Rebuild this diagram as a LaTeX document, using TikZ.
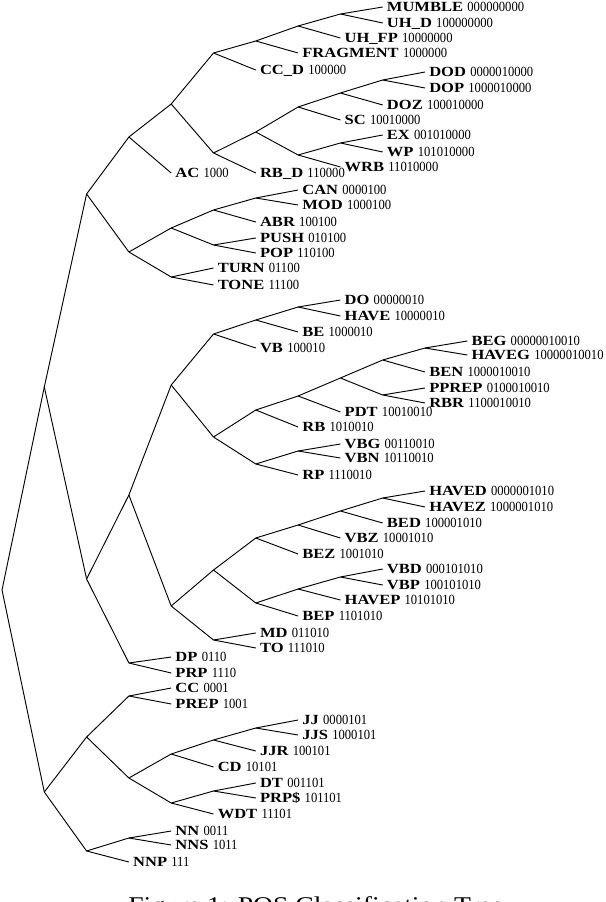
\documentclass[tikz,border=0pt]{standalone}
\usepackage{fontspec}
\setmainfont{Liberation Serif}
\usepackage{graphicx}
\newcommand\tg[2]{\scalebox{1.18}[1]{\bfseries #1}\hspace{3.2pt}\scalebox{0.9}[1]{#2}}
\newcommand\lf[6]{%
  \node[leaflab] (#1) at (#2,#3) {\tg{#4}{#5}};
  \draw[br] (#6) -- (#1.west);%
}
\tikzset{
  br/.style={line width=0.7pt, black},
  leaflab/.style={anchor=west, inner xsep=3pt, inner ysep=0pt, text height=6.95pt, text depth=0pt,
    font=\fontsize{10.5}{12}\selectfont}
}
\begin{document}
\begin{tikzpicture}[x=0.75pt,y=-0.75pt]
\useasboundingbox (0,0) rectangle (606,902);
\clip (0,0) rectangle (606,902);
% internal nodes
\coordinate (r) at (2,590);
\coordinate (n0) at (44.3,387);
\coordinate (n00) at (86.6,194);
\coordinate (n000) at (128.9,137);
\coordinate (n0000) at (171.2,104);
\coordinate (n00000) at (213.5,53);
\coordinate (n000000) at (255.8,41);
\coordinate (n0000000) at (298.1,26);
\coordinate (n00000000) at (340.4,14);
\coordinate (n00001) at (213.5,153);
\coordinate (n000010) at (255.8,132);
\coordinate (n0000100) at (298.1,107);
\coordinate (n00001000) at (340.4,93);
\coordinate (n000010000) at (382.7,80);
\coordinate (n0000101) at (298.1,155);
\coordinate (n00001010) at (340.4,143);
\coordinate (n001) at (128.9,252);
\coordinate (n0010) at (171.2,228);
\coordinate (n00100) at (213.5,210);
\coordinate (n001000) at (255.8,198);
\coordinate (n00101) at (213.5,245);
\coordinate (n0011) at (171.2,277);
\coordinate (n01) at (86.6,579);
\coordinate (n010) at (128.9,495);
\coordinate (n0100) at (171.2,385);
\coordinate (n01000) at (213.5,334);
\coordinate (n010000) at (255.8,320);
\coordinate (n0100000) at (298.1,307);
\coordinate (n01001) at (213.5,437);
\coordinate (n010010) at (255.8,410);
\coordinate (n0100100) at (298.1,396);
\coordinate (n01001000) at (340.4,378);
\coordinate (n010010000) at (382.7,360);
\coordinate (n0100100000) at (425,348);
\coordinate (n010010001) at (382.7,395);
\coordinate (n010011) at (255.8,464);
\coordinate (n0100110) at (298.1,451);
\coordinate (n0101) at (171.2,606);
\coordinate (n01010) at (213.5,570);
\coordinate (n010100) at (255.8,538);
\coordinate (n0101000) at (298.1,525);
\coordinate (n01010000) at (340.4,511);
\coordinate (n010100000) at (382.7,498);
\coordinate (n010101) at (255.8,603);
\coordinate (n0101010) at (298.1,589);
\coordinate (n01010100) at (340.4,577);
\coordinate (n01011) at (213.5,640);
\coordinate (n011) at (128.9,663);
\coordinate (n1) at (44.3,792);
\coordinate (n10) at (86.6,737);
\coordinate (n100) at (128.9,696);
\coordinate (n101) at (128.9,778);
\coordinate (n1010) at (171.2,754);
\coordinate (n10100) at (213.5,740);
\coordinate (n101000) at (255.8,728);
\coordinate (n1011) at (171.2,803);
\coordinate (n10110) at (213.5,791);
\coordinate (n11) at (86.6,851);
\coordinate (n110) at (128.9,838);
% internal edges
\foreach \a/\b in {r/n0, r/n1, n0/n00, n0/n01, n00/n000, n00/n001, n000/n0000,
  n0000/n00000, n0000/n00001, n00000/n000000, n000000/n0000000, n0000000/n00000000,
  n00001/n000010, n000010/n0000100, n000010/n0000101, n0000100/n00001000,
  n00001000/n000010000, n0000101/n00001010, n001/n0010, n001/n0011, n0010/n00100,
  n0010/n00101, n00100/n001000, n01/n010, n01/n011, n010/n0100, n010/n0101,
  n0100/n01000, n0100/n01001, n01000/n010000, n010000/n0100000, n01001/n010010,
  n01001/n010011, n010010/n0100100, n0100100/n01001000, n01001000/n010010000,
  n01001000/n010010001, n010010000/n0100100000, n010011/n0100110, n0101/n01010,
  n0101/n01011, n01010/n010100, n01010/n010101, n010100/n0101000, n0101000/n01010000,
  n01010000/n010100000, n010101/n0101010, n0101010/n01010100, n1/n10, n1/n11,
  n10/n100, n10/n101, n101/n1010, n101/n1011, n1010/n10100, n10100/n101000,
  n1011/n10110, n11/n110}
  \draw[br] (\a) -- (\b);
% leaves
\lf{lMUMBLE}{382.7}{7}{MUMBLE}{000000000}{n00000000}
\lf{lUHD}{382.7}{23}{UH\_D}{100000000}{n00000000}
\lf{lUHFP}{340.4}{38}{UH\_FP}{10000000}{n0000000}
\lf{lFRAG}{298.1}{53}{FRAGMENT}{1000000}{n000000}
\lf{lCCD}{255.8}{70}{CC\_D}{100000}{n00000}
\lf{lDOD}{425}{72}{DOD}{0000010000}{n000010000}
\lf{lDOP}{425}{88}{DOP}{1000010000}{n000010000}
\lf{lDOZ}{382.7}{105}{DOZ}{100010000}{n00001000}
\lf{lSC}{340.4}{120}{SC}{10010000}{n0000100}
\lf{lEX}{382.7}{135}{EX}{001010000}{n00001010}
\lf{lWP}{382.7}{152}{WP}{101010000}{n00001010}
\lf{lWRB}{340.4}{167}{WRB}{11010000}{n0000101}
\lf{lRBD}{255.8}{173}{RB\_D}{110000}{n00001}
\lf{lAC}{171.2}{173}{AC}{1000}{n000}
\lf{lCAN}{298.1}{190}{CAN}{0000100}{n001000}
\lf{lMOD}{298.1}{205}{MOD}{1000100}{n001000}
\lf{lABR}{255.8}{222}{ABR}{100100}{n00100}
\lf{lPUSH}{255.8}{238}{PUSH}{010100}{n00101}
\lf{lPOP}{255.8}{253}{POP}{110100}{n00101}
\lf{lTURN}{213.5}{268}{TURN}{01100}{n0011}
\lf{lTONE}{213.5}{285}{TONE}{11100}{n0011}
\lf{lDO}{340.4}{300}{DO}{00000010}{n0100000}
\lf{lHAVE}{340.4}{316}{HAVE}{10000010}{n0100000}
\lf{lBE}{298.1}{332}{BE}{1000010}{n010000}
\lf{lVB}{255.8}{348}{VB}{100010}{n01000}
\lf{lBEG}{467.3}{341}{BEG}{00000010010}{n0100100000}
\lf{lHAVEG}{467.3}{355}{HAVEG}{10000010010}{n0100100000}
\lf{lBEN}{425}{372}{BEN}{1000010010}{n010010000}
\lf{lPPREP}{425}{388}{PPREP}{0100010010}{n010010001}
\lf{lRBR}{425}{403}{RBR}{1100010010}{n010010001}
\lf{lPDT}{340.4}{412}{PDT}{10010010}{n0100100}
\lf{lRB}{298.1}{427}{RB}{1010010}{n010010}
\lf{lVBG}{340.4}{444}{VBG}{00110010}{n0100110}
\lf{lVBN}{340.4}{458}{VBN}{10110010}{n0100110}
\lf{lRP}{298.1}{475}{RP}{1110010}{n010011}
\lf{lHAVED}{425}{491}{HAVED}{0000001010}{n010100000}
\lf{lHAVEZ}{425}{507}{HAVEZ}{1000001010}{n010100000}
\lf{lBED}{382.7}{523}{BED}{100001010}{n01010000}
\lf{lVBZ}{340.4}{538}{VBZ}{10001010}{n0101000}
\lf{lBEZ}{298.1}{554}{BEZ}{1001010}{n010100}
\lf{lVBD}{382.7}{569}{VBD}{000101010}{n01010100}
\lf{lVBP}{382.7}{585}{VBP}{100101010}{n01010100}
\lf{lHAVEP}{340.4}{600}{HAVEP}{10101010}{n0101010}
\lf{lBEP}{298.1}{616}{BEP}{1101010}{n010101}
\lf{lMD}{255.8}{633}{MD}{011010}{n01011}
\lf{lTO}{255.8}{648}{TO}{111010}{n01011}
\lf{lDP}{171.2}{657}{DP}{0110}{n011}
\lf{lPRP}{171.2}{673}{PRP}{1110}{n011}
\lf{lCC}{171.2}{688}{CC}{0001}{n100}
\lf{lPREP}{171.2}{704}{PREP}{1001}{n100}
\lf{lJJ}{298.1}{720}{JJ}{0000101}{n101000}
\lf{lJJS}{298.1}{735}{JJS}{1000101}{n101000}
\lf{lJJR}{255.8}{751}{JJR}{100101}{n10100}
\lf{lCD}{213.5}{767}{CD}{10101}{n1010}
\lf{lDT}{255.8}{783}{DT}{001101}{n10110}
\lf{lPRPs}{255.8}{798}{PRP\$}{101101}{n10110}
\lf{lWDT}{213.5}{814}{WDT}{11101}{n1011}
\lf{lNN}{171.2}{831}{NN}{0011}{n110}
\lf{lNNS}{171.2}{845}{NNS}{1011}{n110}
\lf{lNNP}{128.9}{862}{NNP}{111}{n11}
% caption (cut off by the page edge, as in the reference)
\node[anchor=base west, inner sep=0pt, font=\fontsize{18}{20}\selectfont] (cap) at (128,913.5)
  {\scalebox{1.15}[1]{Figure 1: POS Classification Tree}};
\end{tikzpicture}
\end{document}
